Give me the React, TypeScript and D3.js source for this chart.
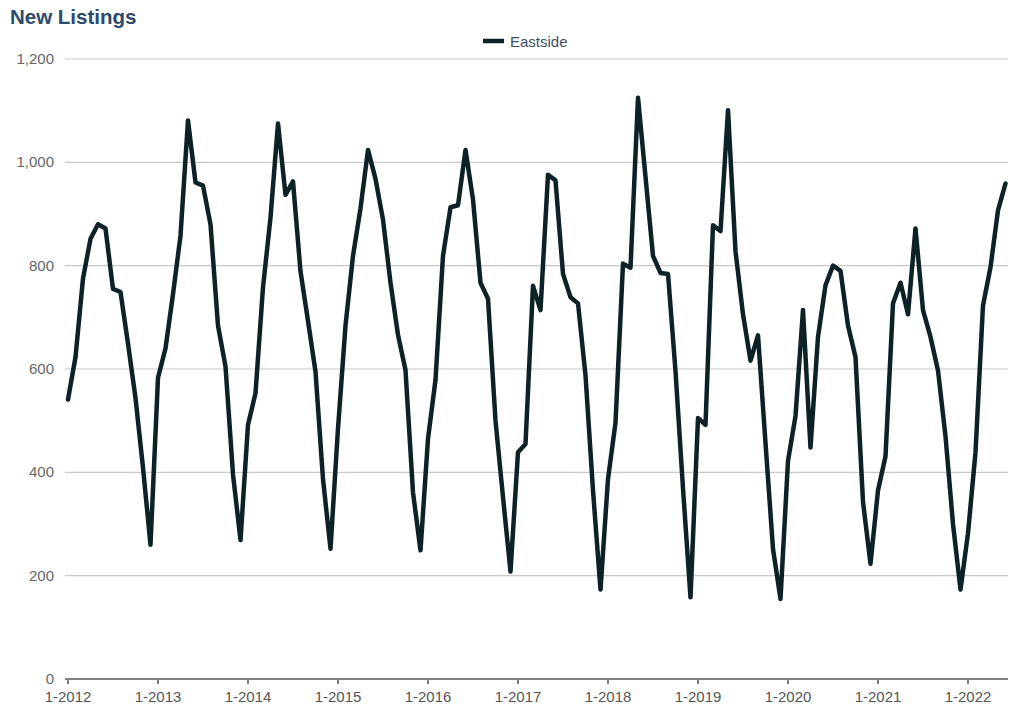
import React from "react";
import { scaleLinear, line, format } from "d3";

// monthly new listings, Jan 2012 .. Jun 2022
const years = [2012, 2013, 2014, 2015, 2016, 2017, 2018, 2019, 2020, 2021, 2022];
const values2012 = [541, 623, 775, 852, 880, 872, 755, 749, 649, 544, 409, 260];
const values2013 = [583, 640, 745, 858, 1081, 961, 955, 880, 684, 605, 396, 269];
const values2014 = [492, 553, 758, 893, 1075, 937, 963, 789, 693, 595, 387, 252];
const values2015 = [485, 684, 819, 911, 1024, 968, 889, 767, 666, 598, 361, 249];
const values2016 = [465, 579, 819, 913, 917, 1024, 928, 767, 736, 500, 352, 208];
const values2017 = [439, 455, 761, 714, 976, 965, 784, 739, 727, 588, 365, 173];
const values2018 = [387, 496, 804, 796, 1125, 972, 819, 786, 784, 596, 369, 158];
const values2019 = [505, 492, 878, 867, 1101, 828, 706, 616, 665, 457, 252, 155];
const values2020 = [422, 509, 714, 448, 662, 762, 800, 790, 684, 623, 343, 223];
const values2021 = [365, 431, 727, 767, 706, 872, 714, 662, 597, 470, 300, 173];
const values2022 = [282, 439, 723, 797, 907, 959];

const eastside = [
  ...values2012, ...values2013, ...values2014, ...values2015, ...values2016,
  ...values2017, ...values2018, ...values2019, ...values2020, ...values2021, ...values2022,
];
const yTicks = [0, 200, 400, 600, 800, 1000, 1200];
const seriesName = "Eastside";

const W = 1024;
const H = 708;
const left = 68;
const monthPx = 7.5;
const top = 59;
const bottom = 679;

export default function App() {
  const x = scaleLinear().domain([0, 1]).range([left, left + monthPx]);
  const y = scaleLinear().domain([0, 1200]).range([bottom, top]);
  const fmt = format(",");
  const path = line<number>()
    .x((_, i) => x(i))
    .y((d) => y(d))(eastside);

  return (
    <svg
      width={W}
      height={H}
      style={{ position: "absolute", left: 0, top: 0, fontFamily: "Liberation Sans, Arial, sans-serif" }}
    >
      <rect width={W} height={H} fill="#fff" />
      <text x={10} y={24} fontSize={20.5} fontWeight="bold" fill="#2d4a6b">
        New Listings
      </text>

      {/* legend */}
      <line x1={483} x2={504} y1={41} y2={41} stroke="#0d2226" strokeWidth={4.5} />
      <text x={510} y={46.5} fontSize={15} fill="#3d4f63">
        {seriesName}
      </text>

      {/* grid + y labels */}
      {yTicks.map((t) => (
        <g key={t}>
          {t > 0 && (
            <line x1={65} x2={1008} y1={y(t)} y2={y(t)} stroke="#c8c8c8" strokeWidth={1.2} />
          )}
          <text x={54} y={y(t) + 5} fontSize={15} fill="#666" textAnchor="end">
            {fmt(t)}
          </text>
        </g>
      ))}

      {/* x axis */}
      <line x1={65} x2={1008} y1={bottom} y2={bottom} stroke="#808080" strokeWidth={2} />
      {years.map((yr, i) => (
        <g key={yr}>
          <line x1={x(i * 12)} x2={x(i * 12)} y1={bottom} y2={bottom + 5} stroke="#808080" strokeWidth={2} />
          <text x={x(i * 12)} y={bottom + 23} fontSize={15} fill="#555" textAnchor="middle">
            {`1-${yr}`}
          </text>
        </g>
      ))}

      <path d={path ?? ""} fill="none" stroke="#0d2226" strokeWidth={4.5} strokeLinejoin="round" strokeLinecap="round" />
    </svg>
  );
}
